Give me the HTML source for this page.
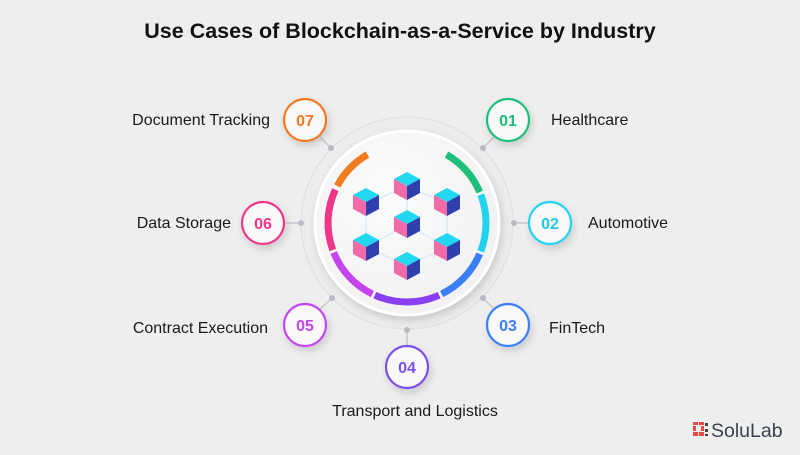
<!DOCTYPE html>
<html><head><meta charset="utf-8"><style>
body{margin:0;width:800px;height:450px;background:#eeeeee;overflow:hidden}
</style></head><body>
<svg width="800" height="450" viewBox="0 0 800 450" xmlns="http://www.w3.org/2000/svg" font-family="Liberation Sans, sans-serif">
<defs>
<filter id="sh" x="-50%" y="-50%" width="200%" height="200%"><feDropShadow dx="2" dy="4" stdDeviation="4" flood-color="#000" flood-opacity="0.15"/></filter>
<radialGradient id="disc" cx="0.4" cy="0.35" r="0.7"><stop offset="0" stop-color="#fbfbfb"/><stop offset="1" stop-color="#f1f1f1"/></radialGradient>
<g id="cube">
<polygon points="0,0 13,7 0,14 -13,7" fill="#22d8f0"/>
<polygon points="-13,7 0,14 0,28 -13,21" fill="#f06ba8"/>
<polygon points="0,14 13,7 13,21 0,28" fill="#2f3fae"/>
</g>
</defs>
<text x="400" y="38" text-anchor="middle" font-size="21.5" font-weight="bold" fill="#111">Use Cases of Blockchain-as-a-Service by Industry</text>

<circle cx="407" cy="223" r="106" fill="#ececec" stroke="#e2e2e2" stroke-width="1.5"/>
<g stroke="#c8c8c8" stroke-width="1.5">
<line x1="331" y1="148" x2="318" y2="135"/>
<line x1="483" y1="148" x2="496" y2="135"/>
<line x1="301" y1="223" x2="286" y2="223"/>
<line x1="514" y1="223" x2="528" y2="223"/>
<line x1="332" y1="298" x2="318" y2="311"/>
<line x1="483" y1="298" x2="496" y2="311"/>
<line x1="407" y1="330" x2="407" y2="345"/>
</g>
<g fill="#b8bcc2">
<circle cx="331" cy="148" r="3"/><circle cx="483" cy="148" r="3"/>
<circle cx="301" cy="223" r="3"/><circle cx="514" cy="223" r="3"/>
<circle cx="332" cy="298" r="3"/><circle cx="483" cy="298" r="3"/>
<circle cx="407" cy="330" r="3"/>
</g>
<circle cx="407" cy="223" r="92" fill="url(#disc)" stroke="#fff" stroke-width="3" filter="url(#sh)"/>
<g fill="none" stroke-width="7">
<circle cx="407" cy="223" r="79" stroke="#f47a20" stroke-dasharray="44.1 500" transform="rotate(208 407 223)"/>
<circle cx="407" cy="223" r="79" stroke="#1dbf7a" stroke-dasharray="51 500" transform="rotate(300 407 223)"/>
<circle cx="407" cy="223" r="79" stroke="#22d3ee" stroke-dasharray="57.9 500" transform="rotate(339 407 223)"/>
<circle cx="407" cy="223" r="79" stroke="#3b7ff5" stroke-dasharray="56.5 500" transform="rotate(23 407 223)"/>
<circle cx="407" cy="223" r="79" stroke="#8a3ff2" stroke-dasharray="66.2 500" transform="rotate(66 407 223)"/>
<circle cx="407" cy="223" r="79" stroke="#c444ee" stroke-dasharray="57.9 500" transform="rotate(116 407 223)"/>
<circle cx="407" cy="223" r="79" stroke="#f0368a" stroke-dasharray="62 500" transform="rotate(160 407 223)"/>
</g>
<g stroke="#dde9f7" stroke-width="1.5" fill="none">
<polyline points="407,186 366,204 366,247 407,266 447,247 447,204 407,186"/>
<line x1="407" y1="186" x2="407" y2="225"/>
<line x1="366" y1="247" x2="407" y2="225"/>
<line x1="447" y1="247" x2="407" y2="225"/>
</g>
<use href="#cube" x="407" y="172"/>
<use href="#cube" x="366" y="188"/>
<use href="#cube" x="447" y="188"/>
<use href="#cube" x="407" y="210"/>
<use href="#cube" x="366" y="233"/>
<use href="#cube" x="447" y="233"/>
<use href="#cube" x="407" y="252"/>

<g font-size="16" font-weight="bold" text-anchor="middle">
<g filter="url(#sh)" fill="#f8f8f8" stroke-width="2.2">
<circle cx="305" cy="120" r="21" stroke="#f47a20"/>
<circle cx="508" cy="120" r="21" stroke="#1dbf7a"/>
<circle cx="263" cy="223" r="21" stroke="#f0368a"/>
<circle cx="550" cy="223" r="21" stroke="#22d3ee"/>
<circle cx="305" cy="325" r="21" stroke="#c444ee"/>
<circle cx="508" cy="325" r="21" stroke="#3b7ff5"/>
<circle cx="407" cy="367" r="21" stroke="#7c4fe8"/>
</g>
<text x="305" y="126" fill="#f47a20">07</text>
<text x="508" y="126" fill="#1dbf7a">01</text>
<text x="263" y="229" fill="#f0368a">06</text>
<text x="550" y="229" fill="#22c8e6">02</text>
<text x="305" y="331" fill="#c444ee">05</text>
<text x="508" y="331" fill="#3b7ff5">03</text>
<text x="407" y="373" fill="#7c4fe8">04</text>
</g>
<g font-size="16" fill="#1a1a1a">
<text x="270" y="125" text-anchor="end">Document Tracking</text>
<text x="551" y="125">Healthcare</text>
<text x="231" y="228" text-anchor="end">Data Storage</text>
<text x="588" y="228">Automotive</text>
<text x="268" y="333" text-anchor="end">Contract Execution</text>
<text x="549" y="333">FinTech</text>
<text x="415" y="416" text-anchor="middle">Transport and Logistics</text>
</g>
<g fill="#e84a4a">
<rect x="693" y="422" width="5" height="3"/><rect x="699" y="422" width="5" height="3"/>
<rect x="693" y="426" width="3" height="5"/><rect x="701" y="426" width="3" height="5"/>
<rect x="693" y="432" width="5" height="4"/><rect x="699" y="432" width="5" height="4"/>
<rect x="705" y="423" width="3" height="3" fill="#444"/><rect x="705" y="429" width="3" height="3" fill="#444"/><rect x="705" y="434" width="3" height="2" fill="#444"/>
</g>
<text x="711" y="437" font-size="19.5" fill="#3b4250">SoluLab</text>
</svg>
</body></html>
